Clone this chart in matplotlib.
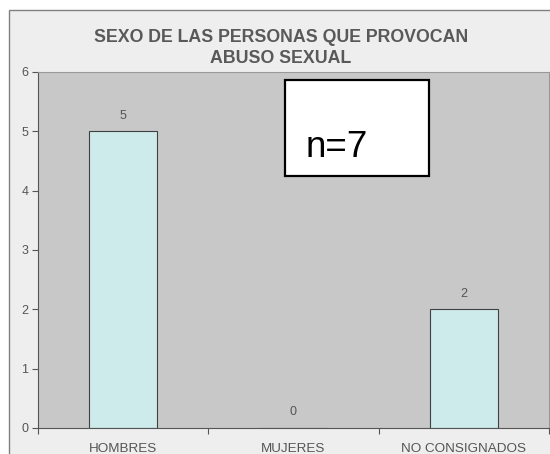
import matplotlib
matplotlib.use("Agg")
import matplotlib.pyplot as plt
from matplotlib.patches import Rectangle

categories = ["HOMBRES", "MUJERES", "NO CONSIGNADOS"]
values = [5, 0, 2]
title = "SEXO DE LAS PERSONAS QUE PROVOCAN\nABUSO SEXUAL"
note = "n=7"

plt.rcParams['font.family'] = ['Liberation Sans', 'DejaVu Sans']

W, H = 550, 454
fig = plt.figure(figsize=(W / 100, H / 100), dpi=100)
fig.patch.set_facecolor("white")

# outer chart frame
fig.patches.append(Rectangle((9 / W, -0.2), 1.2, 1.2 - 10 / H,
                             transform=fig.transFigure, facecolor="#EEEEEE",
                             edgecolor="#808080", linewidth=1.0, zorder=-5))

L, R, T, B = 38, 549, 72, 428
ax = fig.add_axes([L / W, 1 - B / H, (R - L) / W, (B - T) / H])
ax.set_zorder(2)
ax.set_facecolor("#C8C8C8")

x = list(range(len(categories)))
ax.bar(x, values, width=0.4, color="#CDEBEB", edgecolor="#404040", linewidth=0.8, zorder=2)
for xi, v in zip(x, values):
    ax.annotate(str(v), (xi, v), xytext=(0, 7), textcoords="offset points",
                ha="center", va="bottom", fontsize=9, color="#555555")

ax.set_xlim(-0.5, len(categories) - 0.5)
ax.set_ylim(0, 6)
ax.set_yticks(range(0, 7))
ax.tick_params(axis="y", direction="out", length=4, colors="#555555", labelsize=9,
               width=0.8, pad=3)
ax.set_xticks([i - 0.5 for i in range(len(categories) + 1)])
ax.set_xticklabels([])
ax.set_xticks(x, minor=True)
ax.set_xticklabels(categories, minor=True)
ax.tick_params(axis="x", which="major", direction="out", length=4, width=0.8, color="#555555")
ax.tick_params(axis="x", which="minor", length=0, pad=11, labelsize=9.7, labelcolor="#555555")

for s in ["top", "right"]:
    ax.spines[s].set_color("#999999")
    ax.spines[s].set_linewidth(0.8)
for s in ["left", "bottom"]:
    ax.spines[s].set_color("#555555")
    ax.spines[s].set_linewidth(0.8)

fig.text(281 / W, 1 - 48 / H, title, ha="center", va="center", fontsize=12.8,
         fontweight="bold", color="#595959", linespacing=1.3)

# note box
bx0, bx1, by0, by1 = 285, 429, 80, 176
ax.add_patch(Rectangle(((bx0 - L) / (R - L), (B - by1) / (B - T)),
                       (bx1 - bx0) / (R - L), (by1 - by0) / (B - T),
                       transform=ax.transAxes, facecolor="white", edgecolor="black",
                       linewidth=1.6, zorder=5))
ax.text((306 - L) / (R - L), (B - 157) / (B - T), note, transform=ax.transAxes,
        ha="left", va="baseline", fontsize=26.5, color="black", zorder=6)

fig.savefig("out.png", dpi=100)
